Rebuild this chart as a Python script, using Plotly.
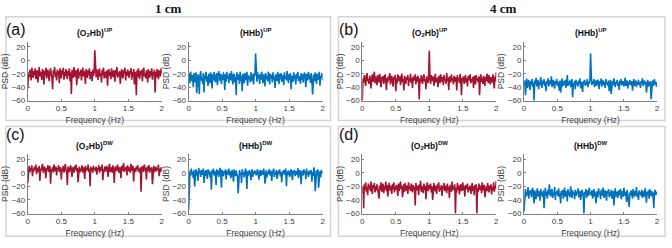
import numpy as np
import plotly.graph_objects as go

# ---------------- data (PSD in dB) ----------------
# (a) 1 cm, UP
o2hb_up_1cm = [
    -42, -18, -25, -14, -22, -30, -11, -19, -26, -16,
    -23, -12, -28, -20, -15, -33, -19, -10, -24, -17,
    -21, -29, -13, -18, -36, -16, -22, -11, -27, -19,
    -14, -24, -31, -17, -12, -21, -26, -43, -15, -20,
    -10, -25, -18, -30, -14, -22, -16, -34, -12, -19,
    -27, -15, -21, -11, -29, -17, -24, -13, -20, -28,
    -16, -23, -12, -31, -18, -50, -14, -21, -26, -10,
    -19, -25, -15, -37, -20, -12, -27, -17, -22, -14,
    -30, -18, -11, -24, -16, -21, -35, -13, -19, -26,
    -15, -22, -12, -28, -17, -20, -31, -14, -23, -18,
    15,
    -18, -25, -13, -21, -29, -16, -12, -24, -19, -33,
    -14, -22, -11, -27, -17, -20, -26, -15, -38, -19,
    -13, -23, -17, -28, -12, -21, -25, -15, -19, -32,
    -14, -22, -10, -26, -18, -24, -16, -35, -20, -13,
    -22, -27, -15, -19, -11, -30, -17, -23, -14, -21,
    -26, -16, -20, -12, -29, -18, -24, -13, -36, -17,
    -21, -52, -15, -25, -12, -20, -28, -16, -22, -14,
    -31, -18, -11, -24, -19, -27, -15, -21, -33, -13,
    -20, -26, -16, -23, -12, -29, -18, -22, -14, -48,
    -17, -25, -13, -21, -28, -15, -19, -24, -12, -20,
]
hhb_up_1cm = [
    -28, -20, -34, -17, -25, -31, -22, -40, -19, -27,
    -33, -18, -49, -36, -21, -29, -50, -23, -16, -30,
    -26, -35, -19, -48, -22, -28, -17, -32, -24, -38,
    -20, -27, -34, -18, -25, -42, -21, -30, -17, -26,
    -33, -23, -19, -37, -28, -16, -24, -31, -20, -35,
    -22, -29, -18, -26, -44, -21, -32, -17, -27, -23,
    -34, -19, -25, -30, -16, -28, -36, -22, -20, -33,
    -24, -52, -18, -29, -26, -21, -35, -17, -31, -23,
    -46, -20, -27, -34, -19, -25, -30, -17, -38, -22,
    -28, -24, -33, -18, -26, -31, -21, -36, -19, -23,
    10,
    -25, -32, -18, -27, -22, -35, -20, -29, -17, -26,
    -34, -21, -24, -39, -19, -28, -23, -31, -17, -25,
    -36, -20, -27, -22, -33, -18, -29, -24, -41, -21,
    -26, -31, -17, -23, -35, -20, -28, -19, -32, -25,
    -22, -37, -18, -27, -24, -30, -16, -26, -34, -21,
    -29, -19, -43, -23, -25, -32, -18, -28, -22, -36,
    -20, -27, -17, -31, -24, -26, -35, -19, -29, -21,
    -33, -23, -18, -27, -40, -20, -25, -30, -17, -28,
    -22, -34, -19, -26, -51, -24, -21, -31, -18, -27,
    -35, -20, -25, -29, -17, -38, -23, -26, -19, -30,
]
# (b) 4 cm, UP
o2hb_up_4cm = [
    -60, -27, -33, -22, -30, -38, -25, -19, -31, -28,
    -35, -23, -29, -42, -26, -21, -32, -27, -17, -34,
    -24, -30, -37, -22, -28, -33, -20, -29, -40, -25,
    -31, -23, -35, -27, -21, -30, -44, -26, -33, -24,
    -29, -19, -36, -28, -23, -32, -39, -25, -30, -22,
    -46, -27, -34, -21, -29, -31, -24, -37, -26, -20,
    -33, -28, -45, -23, -30, -35, -25, -29, -22, -38,
    -27, -31, -20, -34, -26, -41, -24, -30, -28, -21,
    -36, -25, -32, -23, -29, -58, -27, -33, -22, -30,
    -35, -26, -21, -31, -28, -43, -24, -29, -34, -23,
    14,
    -29, -35, -22, -31, -27, -24, -38, -28, -20, -33,
    -26, -30, -40, -23, -29, -34, -21, -27, -32, -25,
    -37, -22, -30, -28, -35, -19, -31, -26, -44, -24,
    -29, -33, -21, -30, -27, -36, -23, -28, -32, -25,
    -45, -22, -30, -27, -34, -20, -29, -52, -26, -31,
    -24, -35, -28, -22, -33, -27, -39, -23, -30, -26,
    -21, -34, -28, -31, -25, -41, -23, -29, -36, -22,
    -30, -27, -33, -24, -52, -28, -21, -32, -26, -35,
    -23, -29, -38, -25, -31, -20, -27, -34, -22, -30,
    -36, -25, -28, -33, -21, -29, -42, -24, -31, -18,
]
hhb_up_4cm = [
    -38, -30, -52, -34, -27, -41, -33, -29, -37, -44,
    -31, -36, -28, -40, -33, -60, -30, -35, -26, -39,
    -34, -29, -43, -32, -37, -25, -35, -41, -30, -36,
    -28, -38, -33, -46, -31, -35, -27, -39, -34, -30,
    -36, -24, -40, -33, -29, -37, -42, -31, -35, -28,
    -38, -32, -36, -45, -30, -48, -34, -27, -39, -33,
    -31, -37, -29, -41, -35, -22, -38, -32, -36, -30,
    -40, -33, -28, -55, -34, -37, -31, -43, -29, -36,
    -33, -39, -30, -35, -27, -42, -32, -37, -47, -31,
    -34, -29, -38, -33, -36, -28, -40, -32, -35, -30,
    10,
    -22, -37, -31, -35, -28, -40, -33, -30, -38, -34,
    -29, -36, -43, -31, -35, -27, -39, -33, -30, -37,
    -32, -41, -28, -35, -33, -38, -30, -46, -34, -29,
    -50, -36, -31, -37, -27, -34, -40, -32, -35, -29,
    -38, -33, -44, -30, -36, -28, -37, -34, -31, -39,
    -33, -26, -38, -35, -30, -42, -32, -36, -29, -37,
    -34, -31, -45, -33, -28, -38, -35, -30, -40, -32,
    -36, -29, -37, -33, -41, -31, -35, -27, -38, -34,
    -30, -36, -32, -48, -35, -29, -39, -33, -37, -31,
    -58, -34, -30, -38, -35, -28, -36, -32, -39, -33,
]
# (c) 1 cm, DW
o2hb_dw_1cm = [
    -15, 5, 10, 0, 7, 3, 11, -5, 6, 2,
    9, 4, 12, -2, 7, 5, 1, 10, -12, 6,
    3, 8, 13, 0, 5, 9, 2, -8, 7, 4,
    11, 1, 6, 10, -16, 5, 3, 8, 0, 12,
    6, 2, 9, -4, 7, 4, 11, 1, 5, 8,
    -10, 6, 3, 10, 0, 7, 13, 4, 2, -18,
    9, 5, 1, 7, 11, 3, -6, 8, 6, 0,
    10, 4, 12, 2, 7, -14, 5, 9, 1, 6,
    3, 11, 0, 8, 5, -9, 10, 2, 7, 4,
    12, 1, 6, -20, 9, 3, 7, 0, 10, 5,
    6,
    2, 9, -3, 7, 4, 11, 0, 6, 8, 3,
    12, -11, 5, 1, 9, 6, 2, 10, 4, -6,
    7, 13, 1, 5, 8, 0, 11, 3, -15, 6,
    9, 2, 7, 12, 4, 0, 8, 5, -8, 10,
    3, 6, 14, 1, 7, 4, 9, -4, 11, 2,
    5, 8, 0, 13, 6, 3, 10, -13, 7, 4,
    1, 9, 5, 11, 2, 6, 0, 8, -28, 3,
    10, 6, 1, 12, 4, 7, -10, 9, 2, 5,
    11, 0, 7, 3, 8, -17, 6, 10, 1, 5,
    9, 2, 7, 4, 12, -5, 6, 1, 8, 3,
]
hhb_dw_1cm = [
    -55, -10, 3, -5, 6, -2, 1, -8, 4, -20,
    0, 5, -4, 2, -12, 7, -1, 3, -6, 4,
    -3, 1, 6, -15, 2, -5, 4, 0, -9, 5,
    -2, 3, -7, 1, -25, 4, -1, 6, -4, 2,
    0, -18, 5, -3, 3, -6, 1, 7, -2, -22,
    4, 0, -5, 2, -1, 5, -10, 3, -3, 1,
    6, -4, 2, -8, 0, 4, -2, -13, 5, 1,
    -5, 3, -1, -6, -30, 2, 4, -3, 0, -15,
    5, -2, 1, -7, 3, 6, -1, -24, 2, -4,
    0, 4, -3, -11, 1, 5, -6, 2, -1, 3,
    0,
    -4, 2, 5, -2, -10, 1, 4, -5, 3, 0,
    -3, 6, -1, -16, 2, 4, -7, 1, -2, 5,
    0, -4, 3, -12, -1, 2, 6, -6, 1, -3,
    4, -9, 0, 3, -2, 5, -5, 1, -14, 2,
    -1, 4, -3, 0, 6, -20, 2, -4, 3, 1,
    -6, 0, 5, -2, -11, 3, -1, 4, -5, 2,
    0, -3, 7, -8, 1, 4, -2, -17, 3, 0,
    -4, 5, -1, 2, -9, 6, -3, 1, -6, 3,
    0, -2, 4, -13, 1, -5, 8, 2, -27, -1,
    3, -4, 5, -22, 0, 2, -7, 4, -1, 2,
]
# (d) 4 cm, DW
o2hb_dw_4cm = [
    -30, -20, -52, -17, -25, -14, -28, -21, -33, -16,
    -23, -19, -27, -13, -24, -31, -18, -22, -15, -29,
    -20, -26, -17, -23, -32, -38, -19, -25, -14, -28,
    -22, -16, -30, -20, -24, -13, -27, -18, -35, -21,
    -15, -26, -19, -23, -31, -17, -24, -14, -29, -20,
    -25, -18, -22, -34, -16, -27, -21, -13, -24, -19,
    -36, -23, -17, -28, -15, -22, -26, -19, -31, -14,
    -24, -20, -27, -16, -23, -29, -18, -25, -21, -48,
    -15, -26, -19, -22, -33, -17, -24, -12, -28, -20,
    -23, -30, -16, -25, -19, -39, -22, -14, -27, -21,
    -18,
    -24, -16, -29, -20, -40, -22, -15, -27, -19, -25,
    -31, -17, -23, -14, -28, -21, -26, -18, -34, -20,
    -24, -15, -27, -22, -19, -30, -16, -25, -21, -37,
    -18, -23, -28, -13, -26, -20, -24, -17, -60, -22,
    -29, -15, -25, -19, -32, -21, -17, -27, -23, -14,
    -26, -20, -35, -18, -24, -22, -16, -29, -21, -25,
    -19, -31, -23, -15, -27, -20, -33, -18, -24, -17,
    -60, -22, -28, -16, -25, -21, -19, -30, -14, -26,
    -22, -18, -36, -24, -20, -27, -15, -23, -29, -19,
    -25, -17, -32, -21, -26, -14, -28, -20, -23, -12,
]
hhb_dw_4cm = [
    -57, -30, -24, -35, -28, -33, -21, -38, -27, -31,
    -25, -36, -29, -22, -34, -45, -26, -32, -39, -28,
    -23, -35, -30, -27, -41, -24, -33, -29, -36, -26,
    -52, -31, -22, -34, -28, -38, -25, -32, -17, -30,
    -35, -27, -24, -37, -29, -33, -21, -40, -28, -31,
    -26, -34, -23, -36, -30, -45, -27, -32, -25, -38,
    -29, -22, -35, -31, -27, -42, -24, -33, -28, -36,
    -20, -30, -37, -26, -32, -29, -39, -25, -34, -28,
    -31, -23, -36, -30, -27, -40, -33, -25, -29, -35,
    -60, -28, -32, -24, -37, -30, -26, -34, -22, -31,
    -29,
    -33, -26, -38, -30, -24, -35, -28, -45, -32, -27,
    -36, -23, -31, -29, -39, -25, -34, -28, -22, -37,
    -30, -26, -33, -41, -27, -31, -24, -36, -29, -34,
    -25, -38, -30, -27, -48, -32, -23, -35, -28, -31,
    -37, -26, -33, -29, -24, -39, -31, -27, -35, -22,
    -30, -34, -28, -43, -25, -32, -36, -50, -29, -33,
    -26, -31, -38, -24, -30, -35, -27, -33, -21, -36,
    -29, -40, -26, -32, -28, -34, -25, -37, -31, -27,
    -35, -23, -30, -44, -28, -33, -26, -38, -24, -31,
    -34, -27, -36, -29, -52, -30, -25, -33, -28, -32,
]

column_titles = ["1 cm", "4 cm"]
panel_labels = ["(a)", "(b)", "(c)", "(d)"]
subplot_titles = [
    "<b>(O<sub>2</sub>Hb)<sup>UP</sup></b>", "<b>(HHb)<sup>UP</sup></b>",
    "<b>(O<sub>2</sub>Hb)<sup>UP</sup></b>", "<b>(HHb)<sup>UP</sup></b>",
    "<b>(O<sub>2</sub>Hb)<sup>DW</sup></b>", "<b>(HHb)<sup>DW</sup></b>",
    "<b>(O<sub>2</sub>Hb)<sup>DW</sup></b>", "<b>(HHb)<sup>DW</sup></b>",
]
x_ticks = [0, 0.5, 1, 1.5, 2]
x_tick_labels = ["0", "0.5", "1", "1.5", "2"]
y_ticks = [-60, -40, -20, 0, 20]

series = [o2hb_up_1cm, hhb_up_1cm, o2hb_up_4cm, hhb_up_4cm,
          o2hb_dw_1cm, hhb_dw_1cm, o2hb_dw_4cm, hhb_dw_4cm]

RED = "rgb(162,20,47)"
BLUE = "rgb(0,114,189)"
colors = [RED, BLUE, RED, BLUE, RED, BLUE, RED, BLUE]

# ---------------- layout geometry (pixels) ----------------
W, H = 672, 248
def px(x):
    return x / W
def py(y):
    return 1 - y / H

x_spans = [(26, 161), (188, 323), (363, 498), (526, 660)]
y_spans = [(43, 102.7), (157.5, 218)]

fig = go.Figure()
font_family = "Liberation Sans, Arial, sans-serif"
axis_col = "#808080"
tick_font = dict(family=font_family, size=8, color="#404040")

for k in range(8):
    row = k // 4
    col = k % 4
    y = series[k]
    freq = np.linspace(0, 2, len(y))
    ax = "" if k == 0 else str(k + 1)
    fig.add_trace(go.Scatter(
        x=freq, y=y, mode="lines",
        line=dict(color=colors[k], width=1.6),
        xaxis="x" + ax, yaxis="y" + ax, showlegend=False, hoverinfo="skip"))
    x0, x1 = x_spans[col]
    y0, y1 = y_spans[row]
    fig.update_layout(**{
        "xaxis" + ax: dict(
            domain=[px(x0), px(x1)], anchor="y" + ax, range=[0, 2],
            tickvals=x_ticks, ticktext=x_tick_labels, ticks="inside", ticklen=2,
            tickcolor=axis_col, showline=True, linecolor=axis_col, linewidth=1,
            showgrid=False, zeroline=False, tickfont=tick_font,
            title=dict(text="Frequency (Hz)", font=dict(family=font_family, size=8.5, color="#404040"), standoff=4),
        ),
        "yaxis" + ax: dict(
            domain=[py(y1), py(y0)], anchor="x" + ax, range=[-60, 27],
            tickvals=y_ticks, ticks="inside", ticklen=2,
            tickcolor=axis_col, showline=True, linecolor=axis_col, linewidth=1,
            showgrid=False, zeroline=False, tickfont=tick_font,
            title=dict(text="PSD (dB)", font=dict(family=font_family, size=8.5, color="#404040"), standoff=1),
        ),
    })
    # subplot title
    fig.add_annotation(
        x=px((x0 + x1) / 2), y=py(33 if row == 0 else 149), xref="paper", yref="paper",
        text=subplot_titles[k], showarrow=False, xanchor="center", yanchor="middle",
        font=dict(family=font_family, size=8.5, color="#111111"))

# panel boxes
boxes = [(4, 17, 331, 123), (339, 17, 668, 123), (4, 129, 331, 241), (339, 129, 668, 241)]
for b in boxes:
    fig.add_shape(type="rect", xref="paper", yref="paper",
                  x0=px(b[0]), x1=px(b[2]), y0=py(b[3]), y1=py(b[1]),
                  line=dict(color="#d4d4d4", width=1.5))

# panel labels
label_pos = [(14, 30), (350, 30), (14, 137), (350, 137)]
for lab, (lx, ly) in zip(panel_labels, label_pos):
    fig.add_annotation(x=px(lx), y=py(ly), xref="paper", yref="paper", text=lab,
                       showarrow=False, xanchor="center", yanchor="middle",
                       font=dict(family=font_family, size=16, color="#111111"))

# column titles
for t, cx in zip(column_titles, [168, 505]):
    fig.add_annotation(x=px(cx), y=py(9), xref="paper", yref="paper", text="<b>" + t + "</b>",
                       showarrow=False, xanchor="center", yanchor="middle",
                       font=dict(family="Liberation Serif, Times New Roman, serif", size=13, color="#111111"))

fig.update_layout(width=W, height=H, margin=dict(l=0, r=0, t=0, b=0),
                  paper_bgcolor="white", plot_bgcolor="white")

fig.write_html("out.html", config={"displayModeBar": False},
               post_script="document.body.style.margin='0';document.body.style.overflow='hidden';")
